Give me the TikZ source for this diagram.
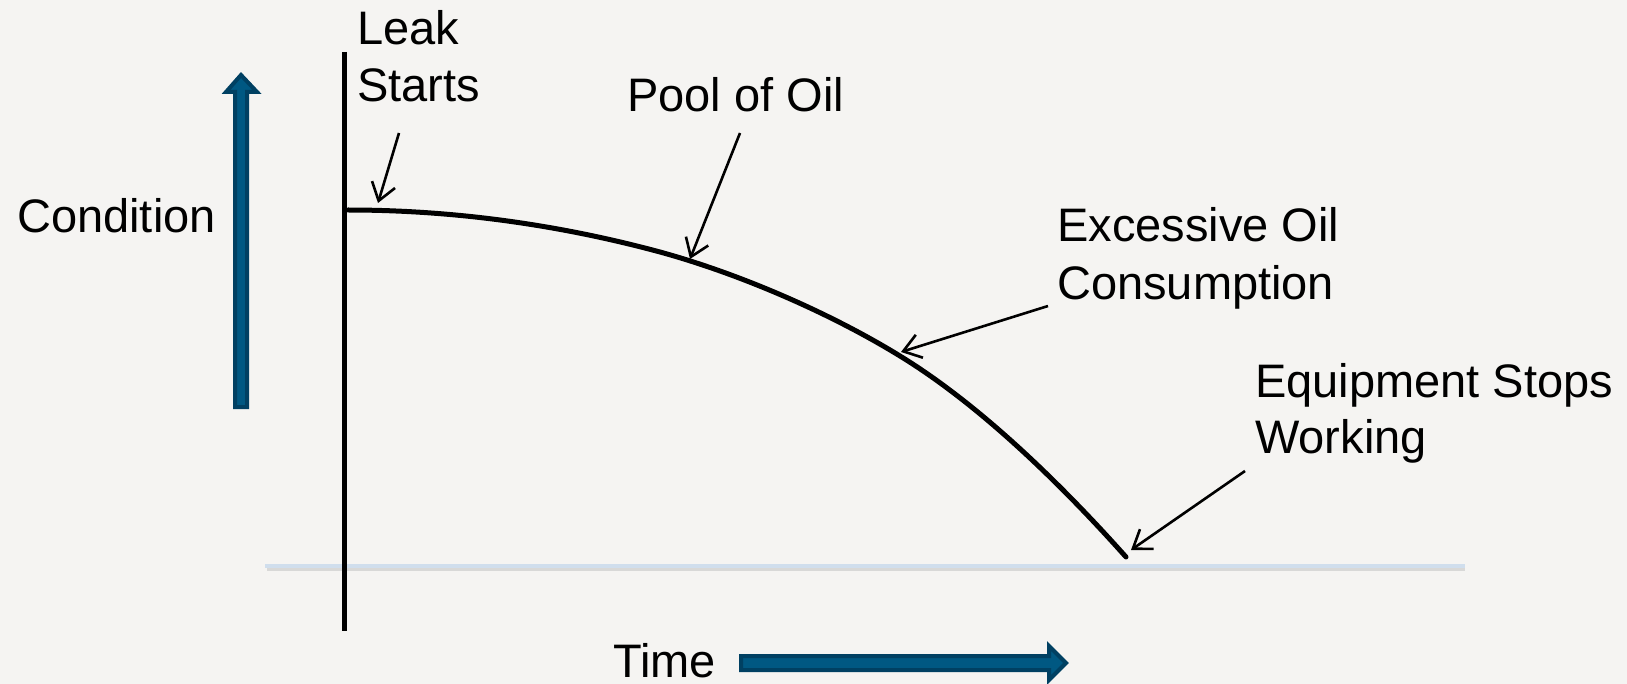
\documentclass[tikz,border=0pt]{standalone}
\usepackage{fontspec}
\setmainfont{Liberation Sans}
\usetikzlibrary{arrows.meta}
\definecolor{bgpaper}{RGB}{245,244,242}
\definecolor{blockfill}{RGB}{0,88,130}
\definecolor{blockedge}{RGB}{0,64,98}
\definecolor{floorblue}{RGB}{208,222,237}
\tikzset{
  lbl/.style={anchor=base west, inner sep=0pt, font=\fontsize{47}{57}\selectfont},
  blockarrow/.style={fill=blockfill, draw=blockedge, line width=4pt, line join=miter},
  callout/.style={line width=2.6pt, -{Straight Barb[length=17pt, width=24pt, line width=2.6pt]}},
}
\begin{document}
\begin{tikzpicture}[x=1pt, y=-1pt]
  % page
  \fill[bgpaper] (0,0) rectangle (1627,684);
  \useasboundingbox (0,0) rectangle (1627,684);

  % failed-state floor line with soft shadow
  \draw[line width=3pt, black!18, opacity=0.8] (267,569) -- (1465,569);
  \draw[line width=4pt, floorblue] (265,566) -- (1465,566);

  % start of leak (vertical marker)
  \draw[line width=5pt] (344,52) -- (344,631);

  % condition axis arrow
  \draw[blockarrow] (235,407) -- (235,92) -- (226,92) -- (241,75) -- (257,92) -- (247,92) -- (247,407) -- cycle;
  % time axis arrow
  \draw[blockarrow] (741,656) -- (1049,656) -- (1049,646) -- (1066,663) -- (1049,680) -- (1049,670) -- (741,670) -- cycle;

  % labels
  \node[lbl] (cond) at (17,233) {Condition};
  \node[lbl] (time) at (613,677) {Time};
  \node[lbl] (leak1) at (357,45) {Leak};
  \node[lbl] (leak2) at (357,102) {Starts};
  \node[lbl] (pool) at (627,112) {Pool of Oil};
  \node[lbl] (exc1) at (1057,242) {Excessive Oil};
  \node[lbl] (exc2) at (1057,300) {Consumption};
  \node[lbl] (eq1) at (1255,397) {Equipment Stops};
  \node[lbl] (eq2) at (1255,453) {Working};

  % condition curve
  \draw[line width=5pt, line cap=round, line join=round]
    (348,210) .. controls (455,210) and (560,225) .. (660,252)
              .. controls (740,274) and (830,313) .. (900,356)
              .. controls (985,408) and (1068,492) .. (1126,557);

  % callout ends
  \coordinate (leakTail) at (399,133);
  \coordinate (leakTip) at (378,203);
  \coordinate (poolTail) at (740,133);
  \coordinate (poolTip) at (690,259);
  \coordinate (excTail) at (1048,306);
  \coordinate (excTip) at (901,352);
  \coordinate (eqTail) at (1245,471);
  \coordinate (eqTip) at (1131,550);

  \draw[callout] (leakTail) -- (leakTip);
  \draw[callout] (poolTail) -- (poolTip);
  \draw[callout] (excTail) -- (excTip);
  \draw[callout] (eqTail) -- (eqTip);
\end{tikzpicture}
\end{document}
